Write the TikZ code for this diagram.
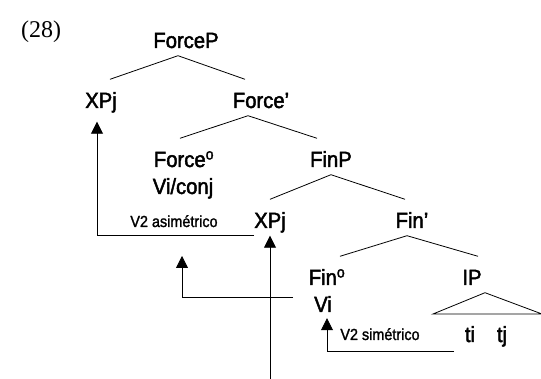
\documentclass[tikz,border=0pt]{standalone}
\usepackage{fontspec}
\newfontfamily\treefont[FakeStretch=0.92, FakeBold=2]{Liberation Sans}
\newfontfamily\notefont[FakeStretch=0.9, FakeBold=1.5]{Liberation Sans}
\newfontfamily\exfont{Liberation Serif}
\usepackage{tikz}
\usetikzlibrary{arrows.meta}

\begin{document}
\begin{tikzpicture}[x=1pt, y=-1pt,
  tn/.style={font=\treefont\fontsize{22}{26}\selectfont, inner xsep=0pt,
    inner ysep=7.5pt, text height=21pt, text depth=0pt, anchor=base},
  leaf/.style={font=\treefont\fontsize{22}{26}\selectfont, inner sep=2pt,
    anchor=base},
  note/.style={font=\notefont\fontsize{16}{19}\selectfont, inner sep=1pt,
    anchor=base},
  edge/.style={line width=0.8pt},
  mv/.style={line width=0.8pt, -{Triangle[width=12pt,length=12pt]}}]
  \useasboundingbox (0,0) rectangle (541,379);
  \node[font=\exfont\fontsize{24}{28}\selectfont, anchor=base] (ex) at (41,38) {(28)};
  \node[tn] (forceP) at (186,48) {ForceP};
  \node[tn] (xp1) at (101,108) {XPj};
  \node[tn] (forceBar) at (261,108) {Force’};
  \node[tn] (forceHd) at (184,167) {Force\textsuperscript{o}};
  \node[leaf] (viConj) at (183,194) {Vi/conj};
  \node[tn] (finP) at (331,167) {FinP};
  \node[tn] (xp2) at (270,228) {XPj};
  \node[tn] (finBar) at (412,228) {Fin’};
  \node[tn] (finHd) at (327,285) {Fin\textsuperscript{o}};
  \node[leaf] (vi) at (323,312) {Vi};
  \node[tn] (ip) at (472,285) {IP};
  \node[leaf] (ti) at (470,342) {ti};
  \node[leaf] (tj) at (502,342) {tj};
  \node[note] (asym) at (174,227) {V2 asimétrico};
  \node[note] (sym) at (380,340) {V2 simétrico};
  \coordinate (triL) at (433,314);
  \coordinate (triR) at (542,314);
  \coordinate (viStart) at (293,297);
  \coordinate (asymTip) at (182,256);
  \coordinate (traceStart) at (454,351);
  \coordinate (bottom) at (270,380);
  % tree
  \draw[edge] ([xshift=9pt]xp1.north) -- ([xshift=-8pt]forceP.south) -- ([xshift=-16pt]forceBar.north);
  \draw[edge] ([xshift=-4pt]forceHd.north) -- ([xshift=-13pt]forceBar.south) -- ([xshift=-14pt]finP.north);
  \draw[edge] (xp2.north) -- (finP.south) -- ([xshift=-7pt]finBar.north);
  \draw[edge] ([xshift=13pt]finHd.north) -- ([xshift=-5pt]finBar.south) -- ([xshift=6pt]ip.north);
  \draw[edge] ([xshift=13pt]ip.south) -- (triL) -- (triR) -- cycle;
  % movement
  \draw[mv, shorten >=6pt] (xp2.south west) -| ([xshift=-4pt]xp1.south);
  \draw[mv] (viStart) -| (asymTip);
  \draw[mv] (bottom) -- (xp2.south);
  \draw[mv, shorten >=4pt] (traceStart) -| ([xshift=4pt]vi.south);
\end{tikzpicture}
\end{document}
